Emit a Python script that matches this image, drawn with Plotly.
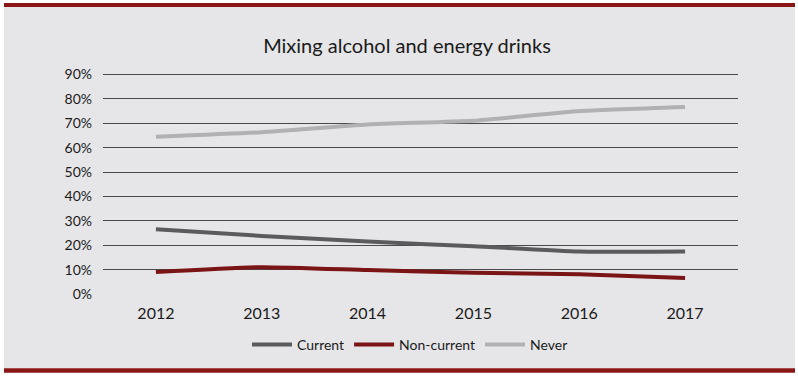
import plotly.graph_objects as go

years = ["2012", "2013", "2014", "2015", "2016", "2017"]
current = [26.5, 23.8, 21.5, 19.6, 17.4, 17.4]
non_current = [9.0, 11.0, 9.8, 8.7, 8.1, 6.6]
never = [64.5, 66.3, 69.5, 71.0, 75.0, 76.7]
y_ticks = [0, 10, 20, 30, 40, 50, 60, 70, 80, 90]
y_tick_labels = [f"{v}%" for v in y_ticks]

FONT = "Lato, sans-serif"
W, H = 798, 377
YMAX = 90.6
UNIT = 220 / 90.0
L, R, B = 103, 60, 83
PH = YMAX * UNIT
T = H - B - PH
PW = W - L - R

def px(x):
    return (x - L) / PW

def py(y):
    return (H - B - y) / PH

fig = go.Figure()
series = [("Current", current, "#5b5b5d"),
          ("Non-current", non_current, "#7b1515"),
          ("Never", never, "#b1b1b3")]
for name, vals, col in series:
    fig.add_trace(go.Scatter(x=years, y=vals, name=name, mode="lines",
                             line=dict(color=col, width=4, shape="spline", smoothing=0.5)))

shapes = [
    dict(type="rect", xref="paper", yref="paper", x0=px(4), x1=px(795), y0=py(368.5), y1=py(6),
         fillcolor="#e6e6e8", line=dict(width=0), layer="below"),
    dict(type="rect", xref="paper", yref="paper", x0=px(4), x1=px(795), y0=py(6.5), y1=py(2.5),
         fillcolor="#8b1616", line=dict(width=0), layer="below"),
    dict(type="rect", xref="paper", yref="paper", x0=px(4), x1=px(795), y0=py(373), y1=py(368.5),
         fillcolor="#8b1616", line=dict(width=0), layer="below"),
]

fig.update_layout(
    width=W, height=H,
    margin=dict(l=L, r=R, t=T, b=B, pad=0),
    paper_bgcolor="white",
    plot_bgcolor="rgba(0,0,0,0)",
    shapes=shapes,
    font=dict(family=FONT, color="#1a1a1a"),
    title=dict(text="Mixing alcohol and energy drinks", x=407 / W, xanchor="center",
               y=1 - 46 / H, yanchor="middle", font=dict(size=20, family=FONT, color="#1a1a1a")),
    xaxis=dict(type="category", range=[-0.5, 5.5], showgrid=False, zeroline=False,
               showline=False, ticks="", tickfont=dict(size=16), ticklabelstandoff=8),
    yaxis=dict(range=[0, YMAX], tickvals=y_ticks, ticktext=y_tick_labels, showgrid=True,
               gridcolor="#4a4a4a", gridwidth=1, zeroline=False, showline=False,
               ticks="", tickfont=dict(size=14), ticklabelstandoff=10),
    legend=dict(orientation="h", x=px(410), xanchor="center", y=py(345), yanchor="middle",
                font=dict(size=14), bgcolor="rgba(0,0,0,0)", itemwidth=40,
                tracegroupgap=0),
    showlegend=True,
)

fig.write_html("out.html",
               config={"displayModeBar": False},
               post_script="document.body.style.margin='0';document.body.style.overflow='hidden';")
